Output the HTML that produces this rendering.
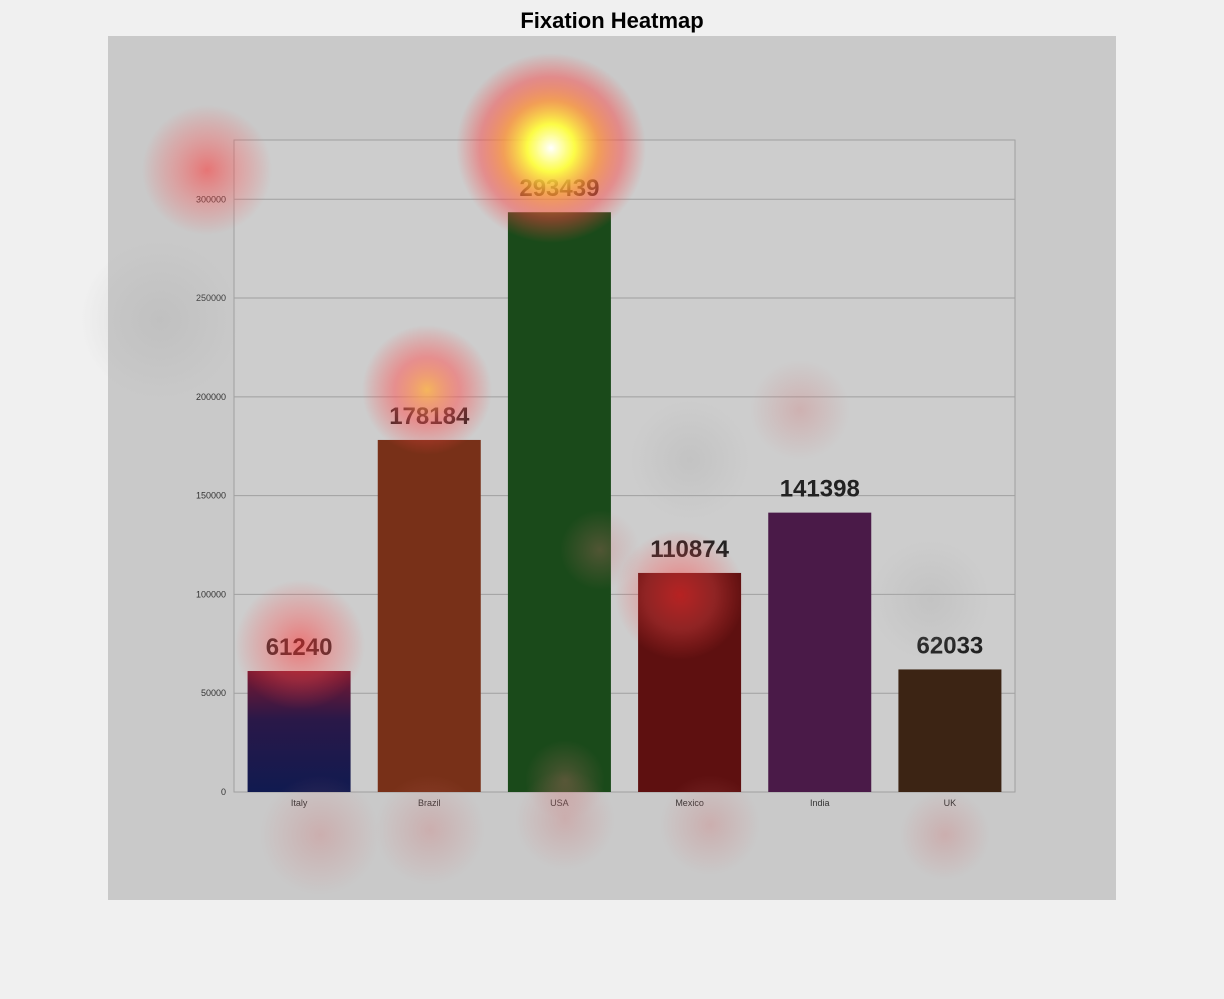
<!DOCTYPE html>
<html><head><meta charset="utf-8"><style>
body{margin:0;background:#f0f0f0;width:1224px;height:994px;overflow:hidden;font-family:"Liberation Sans",sans-serif}
</style></head><body>
<svg width="1224" height="994" xmlns="http://www.w3.org/2000/svg">
<defs>
<radialGradient id="hot"><stop offset="0" stop-color="#ffffff" stop-opacity="1"/><stop offset="0.25" stop-color="#ffff40" stop-opacity="0.95"/><stop offset="0.5" stop-color="#ff9030" stop-opacity="0.75"/><stop offset="0.75" stop-color="#ff4040" stop-opacity="0.45"/><stop offset="1" stop-color="#ff4040" stop-opacity="0"/></radialGradient>
<radialGradient id="warm"><stop offset="0" stop-color="#ffb040" stop-opacity="0.8"/><stop offset="0.5" stop-color="#ff5050" stop-opacity="0.5"/><stop offset="1" stop-color="#ff4040" stop-opacity="0"/></radialGradient>
<radialGradient id="red"><stop offset="0" stop-color="#ff3030" stop-opacity="0.55"/><stop offset="0.55" stop-color="#ff5050" stop-opacity="0.3"/><stop offset="1" stop-color="#ff4040" stop-opacity="0"/></radialGradient>
<radialGradient id="faint"><stop offset="0" stop-color="#d07070" stop-opacity="0.3"/><stop offset="1" stop-color="#d07070" stop-opacity="0"/></radialGradient>
<radialGradient id="gray"><stop offset="0" stop-color="#b0b0b0" stop-opacity="0.35"/><stop offset="1" stop-color="#b0b0b0" stop-opacity="0"/></radialGradient>
<linearGradient id="italyG" x1="0" y1="1" x2="0" y2="0"><stop offset="0" stop-color="#101a50"/><stop offset="0.6" stop-color="#2a1848"/><stop offset="1" stop-color="#7a1830"/></linearGradient>
</defs>
<text x="612" y="28" text-anchor="middle" font-size="22" font-weight="bold" fill="#000">Fixation Heatmap</text>
<rect x="108" y="36" width="1008" height="864" fill="#c9c9c9"/>
<g id="plot"></g>
<g id="heat"></g>
</svg>
<script>
const categories=["Italy","Brazil","USA","Mexico","India","UK"];
const values=[61240,178184,293439,110874,141398,62033];
const barColors=["url(#italyG)","#783018","#1a4a1a","#5e1010","#4a1a48","#3c2414"];
const yTicks=[0,50000,100000,150000,200000,250000,300000];
const NS="http://www.w3.org/2000/svg";
const L=234,R=1015,T=140,B=792,yMax=330000;
const y=v=>B-(v/yMax)*(B-T);
const band=(R-L)/categories.length;
const x=i=>L+band*i+band/2;
const plot=document.getElementById('plot');
function mk(t,a,p){const e=document.createElementNS(NS,t);for(const k in a)e.setAttribute(k,a[k]);p.appendChild(e);return e;}
const bg=mk('rect',{x:L,y:T,width:R-L,height:B-T,fill:'#cdcdcd',stroke:'#a0a0a0'},plot);


yTicks.forEach(v=>{
  const g=mk('line',{x1:L,x2:R,y1:y(v),y2:y(v),stroke:'#a0a0a0','stroke-width':1},plot);
  
  
  const t=mk('text',{x:L-8,y:y(v)+3,'text-anchor':'end','font-size':9,fill:'#333'},plot);
  t.textContent=v;
  
  
});
categories.forEach((c,i)=>{
  const w=103;
  const b=mk('rect',{x:x(i)-w/2,y:y(values[i]),width:w,height:B-y(values[i]),fill:barColors[i]},plot);
  
  
  const t=mk('text',{x:x(i),y:y(values[i])-16,'text-anchor':'middle','font-size':24,'font-weight':'bold',fill:'#222'},plot);
  t.textContent=values[i];
  
  
  const xl=mk('text',{x:x(i),y:B+14,'text-anchor':'middle','font-size':9,fill:'#333'},plot);
  xl.textContent=c;
  
  
});
const heat=document.getElementById('heat');
[[160,320,80,'gray'],[690,460,60,'gray'],[930,600,60,'gray'],
 [551,148,95,'hot'],[207,170,65,'red'],[427,390,65,'warm'],[300,645,65,'red'],[680,595,65,'red'],[565,780,40,'faint'],
 [320,835,60,'faint'],[430,830,55,'faint'],[565,820,50,'faint'],[710,825,50,'faint'],[945,835,45,'faint'],[800,410,50,'faint'],[600,550,40,'faint']
].forEach(h=>{
  const c=mk('circle',{cx:h[0],cy:h[1],r:h[2],fill:'url(#'+h[3]+')'},heat);
  
  
});
</script>
</body></html>
